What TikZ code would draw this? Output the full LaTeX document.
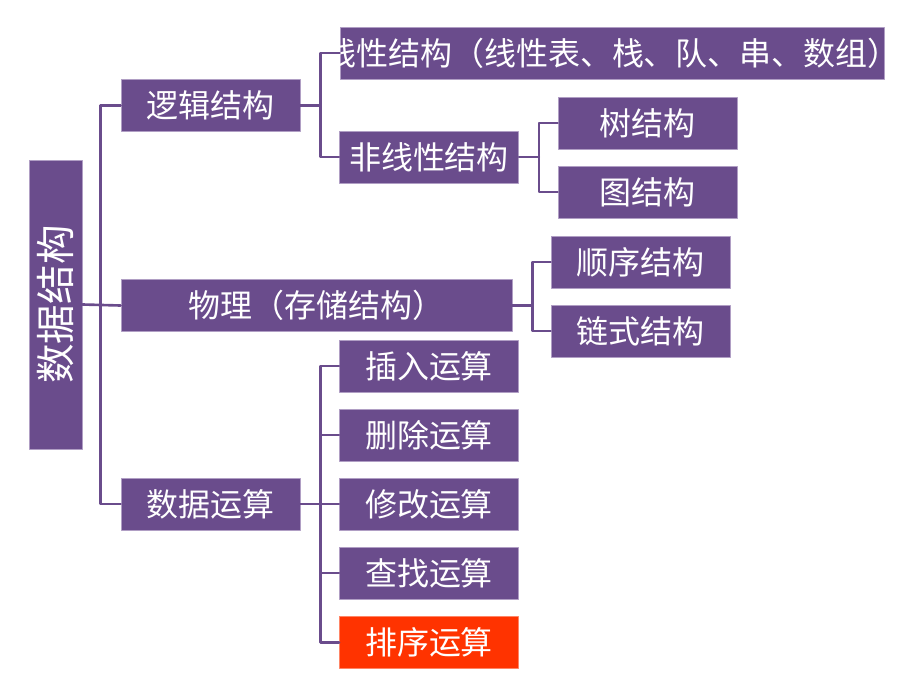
\documentclass[tikz,border=0pt]{standalone}
\usepackage{fontspec}
\setmainfont{Noto Sans CJK SC}
\definecolor{boxpurple}{RGB}{106,76,140}
\definecolor{edgepurple}{RGB}{176,158,196}
\definecolor{hotred}{RGB}{255,51,0}
\begin{document}
\begin{tikzpicture}[x=0.02cm,y=-0.02cm,line cap=round,line join=round]
  \tikzset{
    box/.style={fill=boxpurple,draw=edgepurple,line width=0.5pt,text=white,
      minimum width=3.58cm,minimum height=1.04cm,inner sep=0pt,
      font=\fontsize{18.2pt}{20pt}\selectfont},
    txt/.style={text=white,inner sep=0pt,font=\fontsize{18.2pt}{20pt}\selectfont},
    link/.style={draw=boxpurple,line width=1.5pt}
  }
  \useasboundingbox (0,0) rectangle (920,690);
  % Root on the left, set on its side.
  \node[box,rotate=90,minimum width=5.78cm,minimum height=1.06cm,
    font=\fontsize{22.5pt}{24pt}\selectfont] (root) at (55.5,304.5) {数据结构};
  % Second level.
  \node[box] (logic) at (210.5,105.5) {逻辑结构};
  \node[box,minimum width=7.82cm] (phys) at (316.5,305.5) {物理（存储结构）};
  \node[box] (ops) at (210.5,504) {数据运算};
  % Logical structure branch; the long label runs past its box.
  \node[box,minimum width=10.88cm,
    label={[txt]center:线性结构（线性表、栈、队、串、数组）}] (lin) at (612,53) {};
  \node[box] (nonlin) at (429,157) {非线性结构};
  \node[box] (tree) at (647.5,123) {树结构};
  \node[box] (graph) at (647.5,192) {图结构};
  % Physical structure branch.
  \node[box] (seq) at (640.5,262) {顺序结构};
  \node[box] (chain) at (640.5,331) {链式结构};
  % Operations branch.
  \node[box] (ins) at (429,366) {插入运算};
  \node[box] (del) at (429,435) {删除运算};
  \node[box] (mod) at (429,504) {修改运算};
  \node[box] (find) at (429,573) {查找运算};
  \node[box,fill=hotred,draw=hotred!60!white] (sort) at (429,642.5) {排序运算};
  % Brackets.
  \draw[link] (root.south) -- (phys.west);
  \draw[link] (logic.west) -- ++(-20,0) |- (ops.west);
  \draw[link] (logic.east) -- ++(20,0) coordinate (jlogic);
  \foreach \n in {lin,nonlin} \draw[link] (jlogic) |- (\n.west);
  \draw[link] (nonlin.east) -- ++(20,0) coordinate (jnon);
  \foreach \n in {tree,graph} \draw[link] (jnon) |- (\n.west);
  \draw[link] (phys.east) -- ++(20,0) coordinate (jphys);
  \foreach \n in {seq,chain} \draw[link] (jphys) |- (\n.west);
  \draw[link] (ops.east) -- ++(20,0) coordinate (jops);
  \foreach \n in {ins,del,mod,find,sort} \draw[link] (jops) |- (\n.west);
\end{tikzpicture}
\end{document}
